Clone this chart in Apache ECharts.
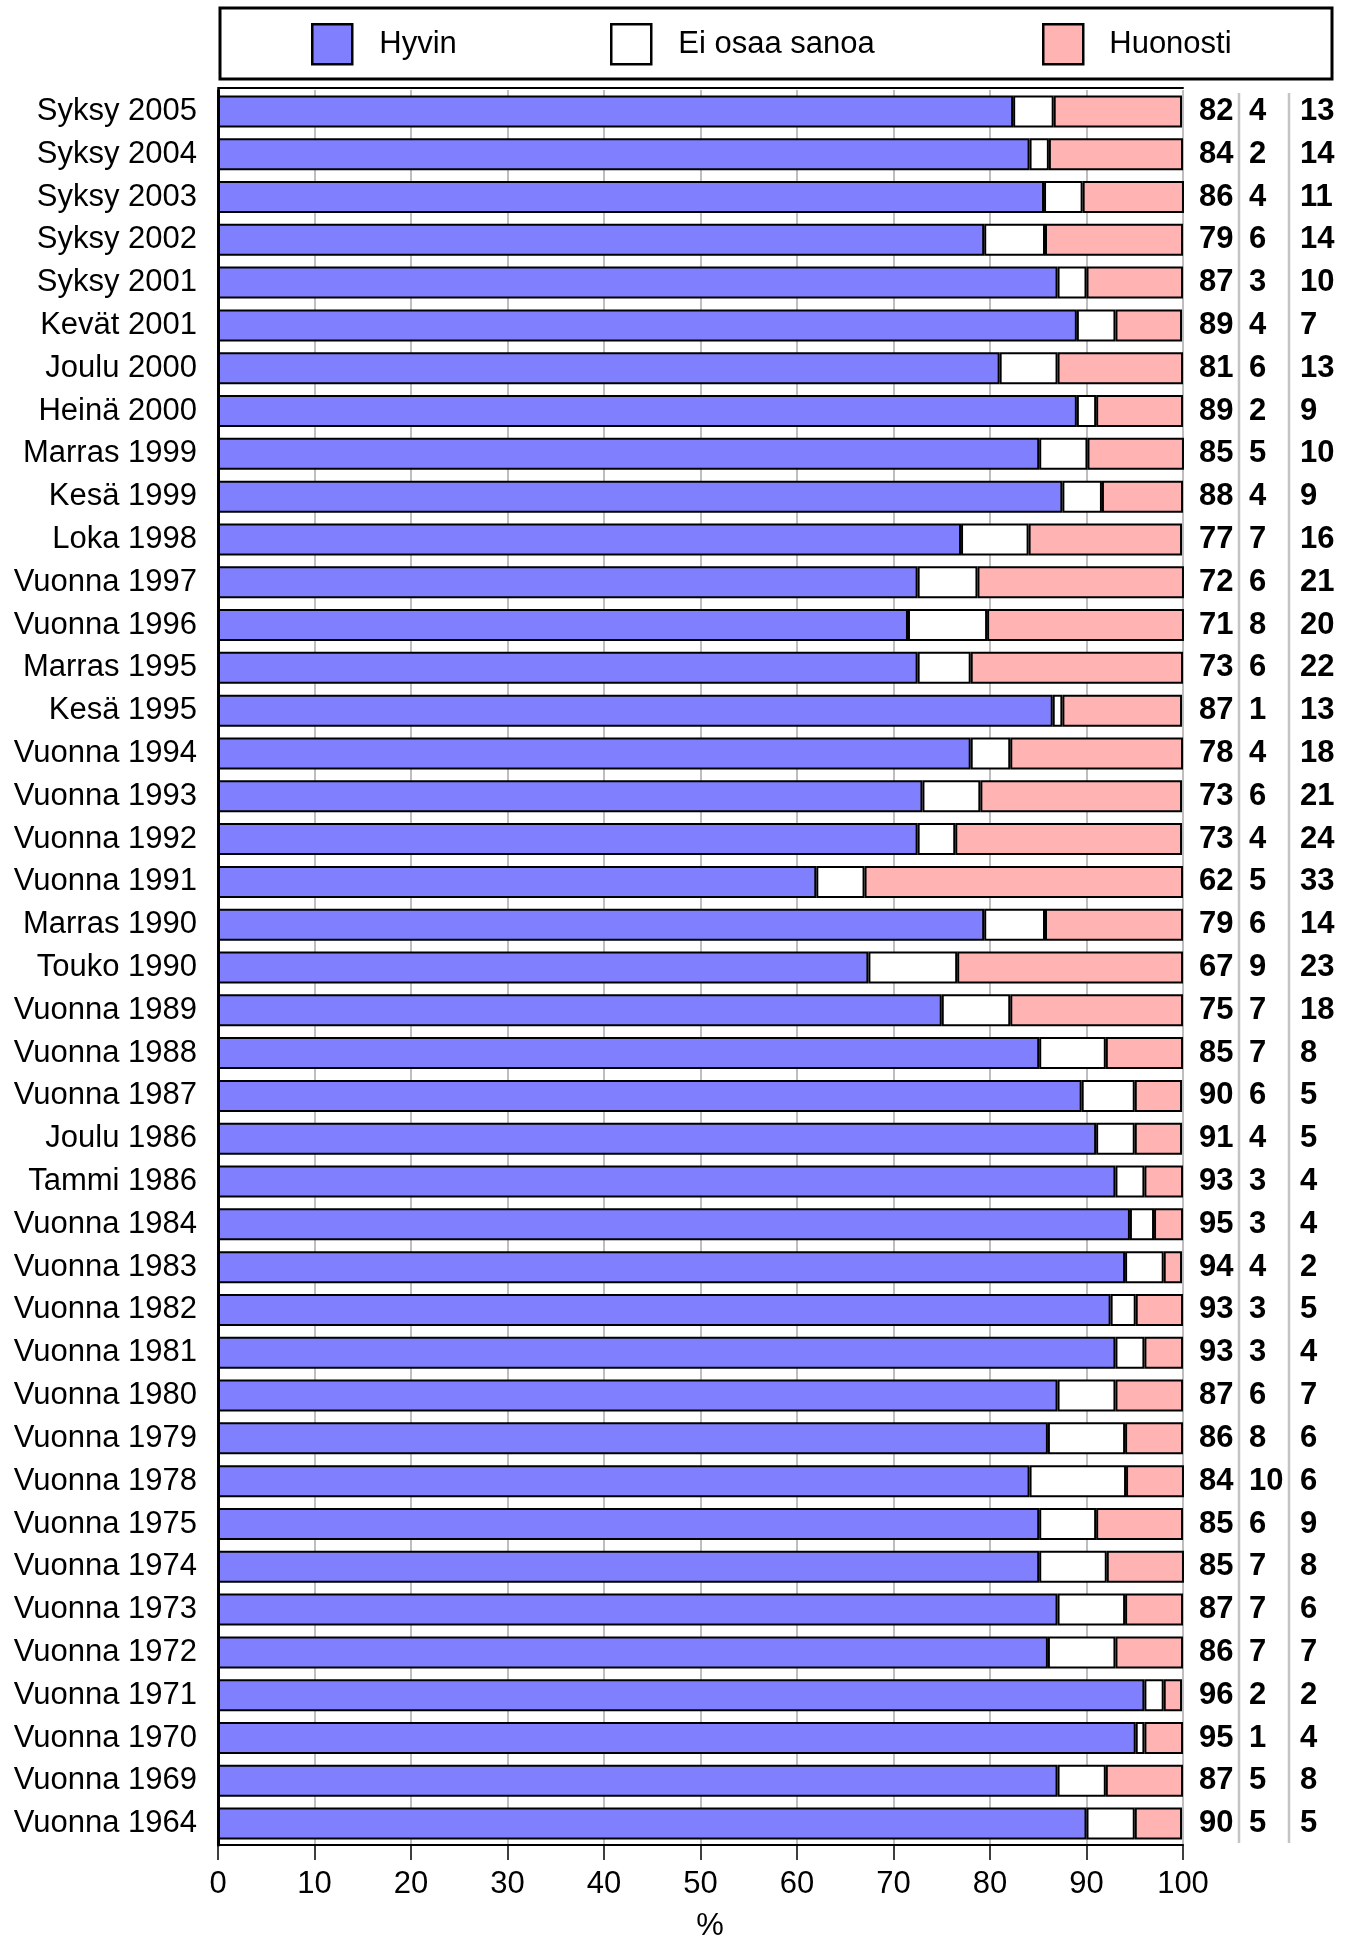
<!DOCTYPE html>
<html><head><meta charset="utf-8">
<script src="https://cdn.jsdelivr.net/npm/echarts@6/dist/echarts.min.js"></script>
<style>html,body{margin:0;padding:0;background:#fff}#c{width:1354px;height:1940px}</style>
</head><body><div id="c"></div>
<script>
const categories = ['Syksy 2005','Syksy 2004','Syksy 2003','Syksy 2002','Syksy 2001','Kevät 2001','Joulu 2000','Heinä 2000','Marras 1999','Kesä 1999','Loka 1998','Vuonna 1997','Vuonna 1996','Marras 1995','Kesä 1995','Vuonna 1994','Vuonna 1993','Vuonna 1992','Vuonna 1991','Marras 1990','Touko 1990','Vuonna 1989','Vuonna 1988','Vuonna 1987','Joulu 1986','Tammi 1986','Vuonna 1984','Vuonna 1983','Vuonna 1982','Vuonna 1981','Vuonna 1980','Vuonna 1979','Vuonna 1978','Vuonna 1975','Vuonna 1974','Vuonna 1973','Vuonna 1972','Vuonna 1971','Vuonna 1970','Vuonna 1969','Vuonna 1964'];

// bar lengths (%)
const hyvin = [82.4,84.1,85.6,79.4,87.0,89.0,81.0,89.0,85.1,87.5,77.0,72.5,71.5,72.5,86.5,78.0,73.0,72.5,62.0,79.4,67.4,75.0,85.1,89.5,91.0,93.0,94.5,94.0,92.5,93.0,87.0,86.0,84.1,85.1,85.1,87.0,86.0,96.0,95.1,87.0,90.0];
const eiOsaa = [4.2,2.0,4.0,6.3,3.0,4.0,6.0,2.0,5.0,4.1,7.0,6.2,8.2,5.5,1.0,4.1,6.0,3.9,5.0,6.3,9.2,7.1,6.9,5.5,4.0,3.0,2.5,4.0,2.6,3.0,6.0,8.0,10.0,5.9,7.0,7.0,7.0,2.0,0.9,5.0,5.0];
const huonosti = [13.3,13.9,10.5,14.3,10.0,6.9,13.0,9.0,10.0,8.4,15.9,21.4,20.4,22.0,12.4,17.9,20.9,23.5,33.0,14.3,23.4,17.9,8.0,4.9,4.9,4.0,3.0,1.9,4.9,4.0,7.0,6.0,6.0,9.0,8.0,6.0,7.0,1.9,4.0,8.0,4.9];

// printed figures on the right
const hyvinLbl = [82,84,86,79,87,89,81,89,85,88,77,72,71,73,87,78,73,73,62,79,67,75,85,90,91,93,95,94,93,93,87,86,84,85,85,87,86,96,95,87,90];
const eiOsaaLbl = [4,2,4,6,3,4,6,2,5,4,7,6,8,6,1,4,6,4,5,6,9,7,7,6,4,3,3,4,3,3,6,8,10,6,7,7,7,2,1,5,5];
const huonostiLbl = [13,14,11,14,10,7,13,9,10,9,16,21,20,22,13,18,21,24,33,14,23,18,8,5,5,4,4,2,5,4,7,6,6,9,8,6,7,2,4,8,5];

const xTicks = [0,10,20,30,40,50,60,70,80,90,100];
const seriesNames = ['Hyvin','Ei osaa sanoa','Huonosti'];
const seriesColors = ['#8080FF','#FFFFFF','#FFB3B3'];
const axisName = '%';

const FONT = '"Liberation Sans", Arial, Helvetica, sans-serif';
const chart = echarts.init(document.getElementById('c'), null, {renderer:'canvas'});

function legendAt(name, left, pad) {
  return {
    data:[name], left:left, top:23, itemWidth:40, itemHeight:40, padding:0,
    selectedMode:false, icon:'rect',
    itemStyle:{borderColor:'#000', borderWidth:2.5},
    textStyle:{fontFamily:FONT, fontSize:31, color:'#000', padding:[0,0,0,pad]}
  };
}

const vals = [hyvin, eiOsaa, huonosti];
const option = {
  animation:false,
  backgroundColor:'#fff',
  legend:[legendAt(seriesNames[0],311,22), legendAt(seriesNames[1],610,22), legendAt(seriesNames[2],1042,21)],
  grid:{left:218, top:90, width:965, height:1755, containLabel:false, outerBoundsMode:'none'},
  xAxis:[{
    type:'value', min:0, max:100, interval:10, position:'bottom',
    axisLine:{show:true, lineStyle:{color:'#000', width:2}},
    axisTick:{show:true, length:15, lineStyle:{color:'#000', width:1.5}},
    axisLabel:{fontFamily:FONT, fontSize:31, color:'#000', margin:24,
      formatter:(v)=> xTicks.indexOf(v) >= 0 ? String(v) : ''},
    splitLine:{show:true, lineStyle:{color:'#a8a8a8', width:1.5}},
    name:axisName, nameLocation:'middle', nameGap:66,
    nameTextStyle:{fontFamily:FONT, fontSize:31, color:'#000', padding:[0,0,0,19]}
  },{
    type:'value', min:0, max:100, position:'top', offset:2,
    axisLine:{show:true, lineStyle:{color:'#000', width:2}},
    axisTick:{show:false}, axisLabel:{show:false}, splitLine:{show:false}
  }],
  yAxis:[{
    type:'category', data:categories, inverse:true,
    axisLine:{show:true, lineStyle:{color:'#000', width:3}},
    axisTick:{show:false},
    axisLabel:{fontFamily:FONT, fontSize:31, color:'#000', margin:21}
  },{
    type:'category', data:categories, inverse:true, position:'right',
    axisLine:{show:false}, axisTick:{show:false},
    axisLabel:{margin:16,
      formatter:(v,i)=>`{a|${hyvinLbl[i]}}{b|${eiOsaaLbl[i]}}{c|${huonostiLbl[i]}}`,
      rich:{
        a:{width:50, align:'left', fontFamily:FONT, fontSize:31, fontWeight:'bold', color:'#000'},
        b:{width:51, align:'left', fontFamily:FONT, fontSize:31, fontWeight:'bold', color:'#000'},
        c:{width:50, align:'left', fontFamily:FONT, fontSize:31, fontWeight:'bold', color:'#000'}
      }}
  }],
  graphic:[
    {type:'rect', shape:{x:220, y:8, width:1112, height:71}, style:{fill:'none', stroke:'#000', lineWidth:3}, silent:true},
    {type:'line', shape:{x1:1239, y1:93, x2:1239, y2:1843}, style:{stroke:'#c4c4c4', lineWidth:2.5}, silent:true},
    {type:'line', shape:{x1:1289, y1:93, x2:1289, y2:1843}, style:{stroke:'#c4c4c4', lineWidth:2.5}, silent:true}
  ],
  series: seriesNames.map((n,k)=>({
    name:n, type:'bar', stack:'total', barWidth:32, xAxisIndex:0, yAxisIndex:0,
    itemStyle:{color:seriesColors[k], borderColor:'#000', borderWidth:2},
    emphasis:{disabled:true},
    data: vals[k]
  }))
};
chart.setOption(option);
</script></body></html>
